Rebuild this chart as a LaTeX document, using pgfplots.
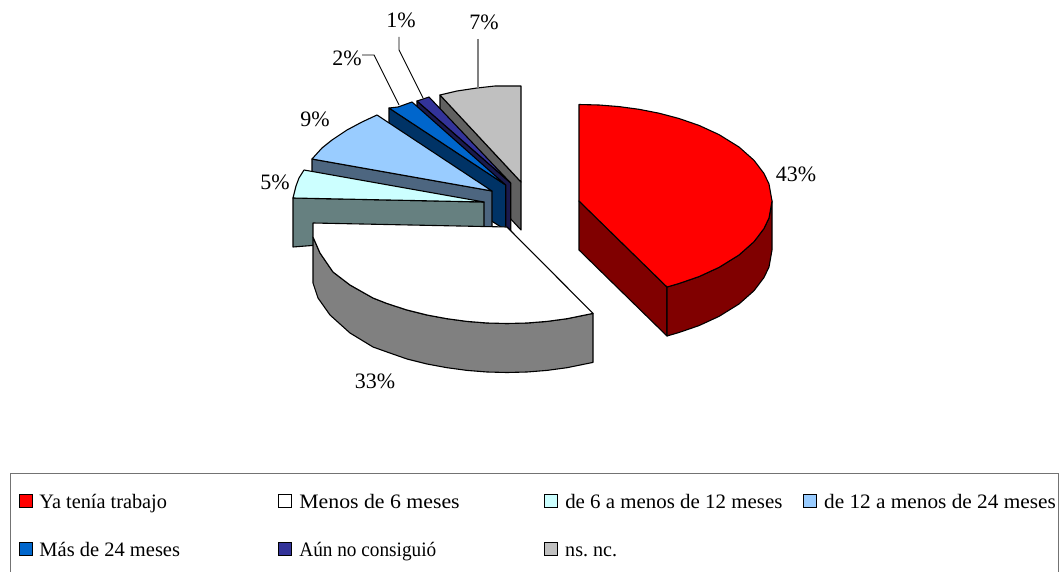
\documentclass[border=0pt]{standalone}
\usepackage{pgfplots}
\pgfplotsset{compat=1.18}
\usepackage{fontspec}
\setmainfont{Liberation Serif}
\definecolor{c1}{HTML}{FF0000}\definecolor{s1}{HTML}{800000}
\definecolor{s2}{HTML}{808080}
\definecolor{c3}{HTML}{CCFFFF}\definecolor{s3}{HTML}{668080}
\definecolor{c4}{HTML}{99CCFF}\definecolor{s4}{HTML}{4D6680}
\definecolor{c5}{HTML}{0066CC}\definecolor{s5}{HTML}{003366}
\definecolor{c6}{HTML}{333399}\definecolor{s6}{HTML}{1A1A4D}
\definecolor{c7}{HTML}{C0C0C0}\definecolor{s7}{HTML}{606060}
\pgfplotsset{
  slice/.style={forget plot,draw=black,line width=1.1pt,line join=round,no marks},
  swatch/.style={legend image code/.code={
    \draw[draw=black,line width=0.9pt,fill=#1] (0pt,-6.5pt) rectangle (13pt,6.5pt);}},
}
\frenchspacing
% legend entry: column width, horizontal squeeze, text
\newcommand{\entry}[3]{\makebox[#1pt][l]{\strut\hspace*{5pt}\scalebox{#2}[1]{#3}}}
\begin{document}
\begin{tikzpicture}
\path[use as bounding box] (0,0) rectangle (1063pt,572pt);
\begin{axis}[
  at={(0,0)},anchor=south west,scale only axis,
  width=1063pt,height=572pt,
  xmin=0,xmax=1063,ymin=0,ymax=572,y dir=reverse,
  hide axis,clip=false,
  legend columns=4,
  legend cell align=left,
  legend style={
    at={(axis cs:10,473)},anchor=north west,
    draw=black!55,line width=1.1pt,
    font=\fontsize{20.5}{24}\selectfont,
    inner xsep=8pt,inner ysep=16pt,
    row sep=26pt,
    /tikz/every even column/.append style={column sep=0pt},
  },
]
% legend entries, in the order of the series
\addlegendimage{swatch=c1}\addlegendentry{\entry{242}{0.99}{Ya tenía trabajo}}
\addlegendimage{swatch=white}\addlegendentry{\entry{248}{1.063}{Menos de 6 meses}}
\addlegendimage{swatch=c3}\addlegendentry{\entry{241}{1.02}{de 6 a menos de 12 meses}}
\addlegendimage{swatch=c4}\addlegendentry{\entry{229.5}{1.038}{de 12 a menos de 24 meses}}
\addlegendimage{swatch=c5}\addlegendentry{\entry{242}{1.0}{Más de 24 meses}}
\addlegendimage{swatch=c6}\addlegendentry{\entry{248}{0.94}{Aún no consiguió}}
\addlegendimage{swatch=c7}\addlegendentry{\entry{241}{0.98}{ns. nc.}}

% ns. nc. (7%)
\addplot[slice,fill=s7] coordinates {(440,95)(521,182)(521,230)(440,143)} --cycle;
\addplot[slice,fill=c7] coordinates {(521,182)(521,86)(495,86)(477,88)(457,91)(440,95)} --cycle;
% aun no consiguio (1%)
\addplot[slice,fill=s6] coordinates {(417,101)(510.7,183)(510.7,231)(417,149)} --cycle;
\addplot[slice,fill=c6] coordinates {(510.7,183)(429,97)(417,101)} --cycle;
% mas de 24 meses (2%)
\addplot[slice,fill=s5] coordinates {(389,108)(505.7,185)(505.7,230)(389,156)} --cycle;
\addplot[slice,fill=c5] coordinates {(505.7,185)(412,102)(398,107)(389,108)} --cycle;
% de 12 a menos de 24 meses (9%)
\addplot[slice,fill=s4] coordinates {(312,159)(492,191)(492,230)(312,207)} --cycle;
\addplot[slice,fill=c4] coordinates {(492,191)(377,115)(362,122)(347,130)(332,140)(322,148)(312,159)} --cycle;
% de 6 a menos de 12 meses (5%)
\addplot[slice,fill=s3] coordinates {(293,198)(484,202)(484,232)(293,247)} --cycle;
\addplot[slice,fill=c3] coordinates {(484,202)(304,170)(299,178)(296,186)(293,198)} --cycle;
% menos de 6 meses (33%): rim first, then the top face
\addplot[slice,fill=s2] coordinates {(593,313.4)(567,318.7)(547,321.4)(527,323)(507,323.5)(487,323)(467,321.4)(447,318.7)(427,315)(407,310)(387,303.5)(373,298)(350,285)(333,272)(320,253)(313,237)
  (313,283)(318,298)(330,315)(350,333)(373,347)(387,352)(407,359)(427,364)(447,367.7)(467,370.4)(487,372)(507,372.5)(527,372)(547,370.4)(567,367.7)(593,362.4)} --cycle;
\addplot[slice,fill=white] coordinates {(507,227)(593,313.4)(567,318.7)(547,321.4)(527,323)(507,323.5)(487,323)(467,321.4)(447,318.7)(427,315)(407,310)(387,303.5)(373,298)(350,285)(333,272)(320,253)(313,237)(313,223)} --cycle;
% ya tenia trabajo (43%): cut face, rim, top face
\addplot[slice,fill=s1] coordinates {(579,201)(667,287)(667,336)(579,250)} --cycle;
\addplot[slice,fill=s1] coordinates {(667,287)(679,283.5)(699,276.6)(719,267.4)(739,255)(754,241.7)(764,228.5)(769,218)(772,201)
  (772,250)(769,267)(764,277.5)(754,290.7)(739,304)(719,316.4)(699,325.6)(679,332.5)(667,336)} --cycle;
\addplot[slice,fill=c1] coordinates {(579,201)(579,104.5)(599,105)(619,106.6)(639,109.3)(659,113.2)(679,118.5)(699,125.4)(719,134.6)(739,147)(754,160.3)(764,173.5)(769,184)(772,201)(769,218)(764,228.5)(754,241.7)(739,255)(719,267.4)(699,276.6)(679,283.5)(667,287)} --cycle;

% leader lines
\addplot[forget plot,no marks,draw=s2,line width=1.3pt] coordinates {(478,39)(478,88)};
\addplot[forget plot,no marks,draw=black,line width=0.9pt] coordinates {(399,37)(399,50)(423,98)};
\addplot[forget plot,no marks,draw=black,line width=0.9pt] coordinates {(362,55)(374,55)(399,105)};

% percentage labels
\begin{scope}[every node/.style={font=\fontsize{22}{24}\selectfont,text=black,inner sep=0pt}]
\node at (axis cs:484,22) {7\%};
\node at (axis cs:401,20) {1\%};
\node at (axis cs:347,58) {2\%};
\node at (axis cs:315,119) {9\%};
\node at (axis cs:275,182) {5\%};
\node at (axis cs:796,174) {43\%};
\node at (axis cs:375,381) {33\%};
\end{scope}
\end{axis}
\end{tikzpicture}
\end{document}
